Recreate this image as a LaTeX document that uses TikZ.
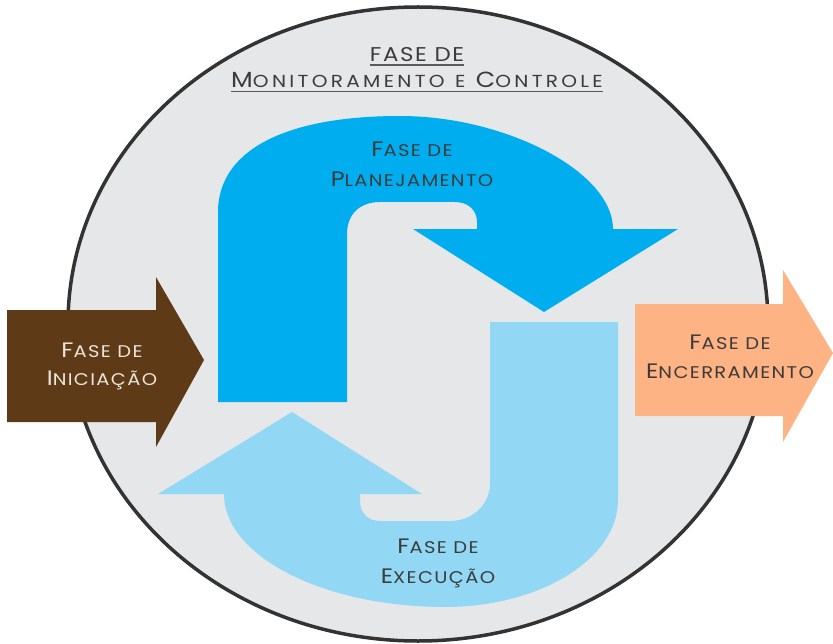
\documentclass[tikz,border=0pt]{standalone}
\usepackage{fontspec}
\newfontfamily\labelfont{Poppins}[FakeStretch=1.15,LetterSpace=8]
\newfontfamily\titlefont{Poppins}[FakeStretch=1.15,LetterSpace=19,WordSpace=1.2]
\definecolor{ringfill}{HTML}{E6E7E8}
\definecolor{ringline}{HTML}{333333}
\definecolor{planblue}{HTML}{00AEEF}
\definecolor{execblue}{HTML}{92D8F5}
\definecolor{initbrown}{HTML}{5E3A16}
\definecolor{closeorange}{HTML}{FDB384}
\definecolor{labelgray}{HTML}{3C3C3C}
\definecolor{lightlabel}{HTML}{ECE5DB}
% fake small caps: first capital larger than the rest
\newcommand\leadcap[1]{{\fontsize{21}{20}\selectfont #1}}
\newcommand\titlecap[1]{{\fontsize{22}{20}\selectfont #1}}
\begin{document}
\begin{tikzpicture}[x=1bp,y=-1bp,
  phaselabel/.style={anchor=base,inner sep=0pt,text=labelgray,
    font=\labelfont\fontsize{17}{18}\selectfont},
  titlelabel/.style={anchor=base,inner sep=0pt,text=labelgray,
    font=\titlefont\fontsize{17.5}{18}\selectfont},
  underline/.style={draw=labelgray!85,line width=1.6bp}]
\useasboundingbox (0,0) rectangle (833,644);

% monitoring ring
\draw[fill=ringfill,draw=ringline,line width=3.5bp] (418,324) ellipse [x radius=350, y radius=317];

% planning arrow
\fill[planblue] (218,402) -- (218,212)
  .. controls (218,152) and (282,116) .. (400,116)
  .. controls (506,116) and (613,172) .. (613,229)
  -- (678,229) -- (544,312) -- (413,229) -- (477,229) -- (477,222)
  .. controls (477,210) and (468,202) .. (455,202)
  -- (380,202)
  .. controls (360,202) and (347,214) .. (347,234)
  -- (347,402) -- cycle;

% execution arrow
\fill[execblue] (618,322) -- (618,500)
  .. controls (618,559) and (540,607) .. (445,607)
  .. controls (323,607) and (224,556) .. (224,494)
  -- (158,494) -- (292,412) -- (422,494) -- (360,494) -- (360,501)
  .. controls (360,513) and (368,521) .. (380,521)
  -- (450,521)
  .. controls (472,521) and (490,505) .. (490,483)
  -- (490,322) -- cycle;

% initiation arrow
\fill[initbrown] (7,310) -- (156,310) -- (156,277) -- (204,360) -- (156,447) -- (156,422) -- (7,422) -- cycle;

% closing arrow
\fill[closeorange] (635,304) -- (783,304) -- (783,270) -- (833,353) -- (783,442) -- (783,416) -- (635,416) -- cycle;

% title
\node[titlelabel,font=\labelfont\fontsize{20}{24}\selectfont] (title1) at (417,62) {FASE DE};
\node[titlelabel] (title2) at (417,88) {\titlecap{M}ONITORAMENTO E \titlecap{C}ONTROLE};
\draw[underline] ([yshift=-3bp]title1.base west) -- ([yshift=-3bp]title1.base east);
\draw[underline] ([yshift=-3.5bp]title2.base west) -- ([yshift=-3.5bp]title2.base east);

% phase labels
\node[phaselabel] (plan1) at (412,157) {\leadcap{F}ASE DE};
\node[phaselabel] (plan2) at (412,187) {\leadcap{P}LANEJAMENTO};
\node[phaselabel] (exec1) at (438,553) {\leadcap{F}ASE DE};
\node[phaselabel] (exec2) at (438,583) {\leadcap{E}XECUÇÃO};
\node[phaselabel,text=lightlabel] (init1) at (102,357) {\leadcap{F}ASE DE};
\node[phaselabel,text=lightlabel] (init2) at (102,385) {\leadcap{I}NICIAÇÃO};
\node[phaselabel] (close1) at (730,349) {\leadcap{F}ASE DE};
\node[phaselabel] (close2) at (730,378) {\leadcap{E}NCERRAMENTO};
\end{tikzpicture}
\end{document}
